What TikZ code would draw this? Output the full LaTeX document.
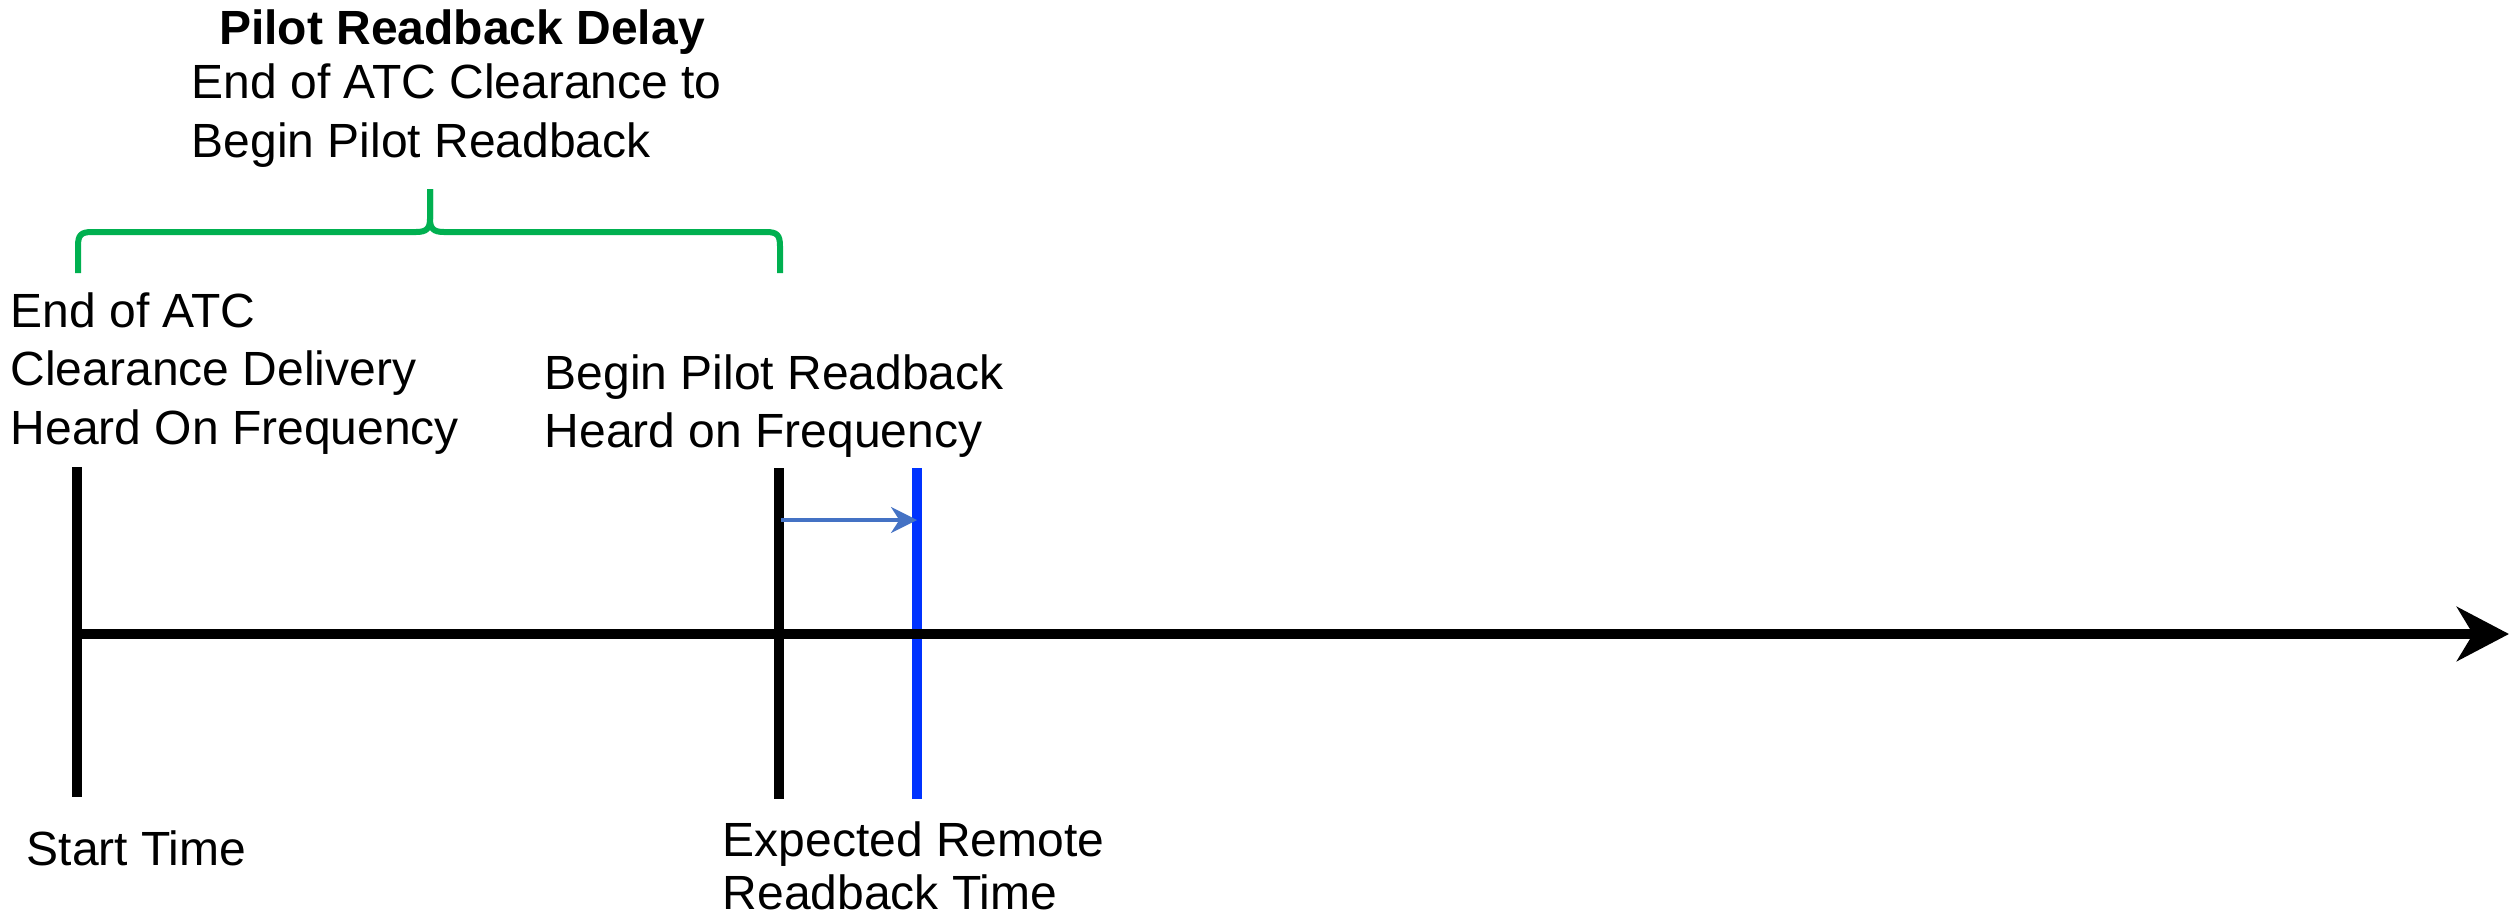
\documentclass[tikz,border=0pt]{standalone}
\usepackage{fontspec}
\setmainfont{Liberation Sans}
\usetikzlibrary{arrows.meta}
\definecolor{bracegreen}{HTML}{00B050}
\definecolor{markblue}{HTML}{0033FF}
\definecolor{arrowblue}{HTML}{4472C4}
\begin{document}
\begin{tikzpicture}[x=0.3pt,y=-0.3pt,
  lbl/.style={inner sep=0pt, align=left, font=\fontsize{14.4}{17.55}\selectfont},
  lblb/.style={inner sep=0pt, align=left, font=\fontsize{14.4}{15.9}\selectfont},
  desc/.style={inner sep=0pt, align=left, font=\fontsize{14.4}{17.7}\selectfont},
  titlestyle/.style={inner sep=0pt, font=\fontsize{14.4}{17.7}\selectfont\bfseries},
  tick/.style={line width=3pt, black},
  bluetick/.style={line width=3pt, markblue},
  axis/.style={line width=3pt, black, -{Stealth[length=15.6pt, width=16.2pt, inset=4.8pt]}},
  delay/.style={line width=1pt, arrowblue, -{Stealth[length=7.8pt, width=7.8pt, inset=2.5pt]}},
  bracestyle/.style={line width=1.8pt, bracegreen, line join=round}
]
\useasboundingbox (0,0) rectangle (2509,923);

% coordinates
\coordinate (t0top) at (77,467);
\coordinate (t0bot) at (77,797);
\coordinate (t1top) at (779,468);
\coordinate (t1bot) at (779,799);
\coordinate (t2top) at (917,468);
\coordinate (t2bot) at (917,799);
\coordinate (axstart) at (77,634);
\coordinate (axend) at (2509,634);
\coordinate (delayfrom) at (781,520);
\coordinate (delayto) at (917,520);
\coordinate (braceL) at (78,273);
\coordinate (braceR) at (780,273);
\coordinate (braceTip) at (430,189);

% brace
\draw[bracestyle] (braceL) -- (78,246) .. controls (78,235) and (81,232) .. (92,232)
  -- (416,232) .. controls (426,232) and (430,229) .. (430,219) -- (braceTip);
\draw[bracestyle] (braceTip) -- (430,219) .. controls (430,229) and (434,232) .. (444,232)
  -- (766,232) .. controls (777,232) and (780,235) .. (780,246) -- (braceR);

% ticks
\draw[tick] (t0top) -- (t0bot);
\draw[tick] (t1top) -- (t1bot);
\draw[bluetick] (t2top) -- (t2bot);

% axis
\draw[axis] (axstart) -- (axend);

% delay arrow
\draw[delay] (delayfrom) -- (delayto);

% texts
\node[titlestyle, anchor=base] (title) at (462,44) {Pilot Readback Delay};
\node[desc, anchor=north west] (desctext) at (191,63) {End of ATC Clearance to\\Begin Pilot Readback};
\node[lbl, anchor=north west] (endlbl) at (10,292) {End of ATC\\Clearance Delivery\\Heard On Frequency};
\node[lbl, anchor=north west] (beginlbl) at (544,354) {Begin Pilot Readback\\Heard on Frequency};
\node[lbl, anchor=base west] (starttime) at (26,865) {Start Time};
\node[lblb, anchor=north west] (expected) at (722,821) {Expected Remote\\Readback Time};
\end{tikzpicture}
\end{document}
